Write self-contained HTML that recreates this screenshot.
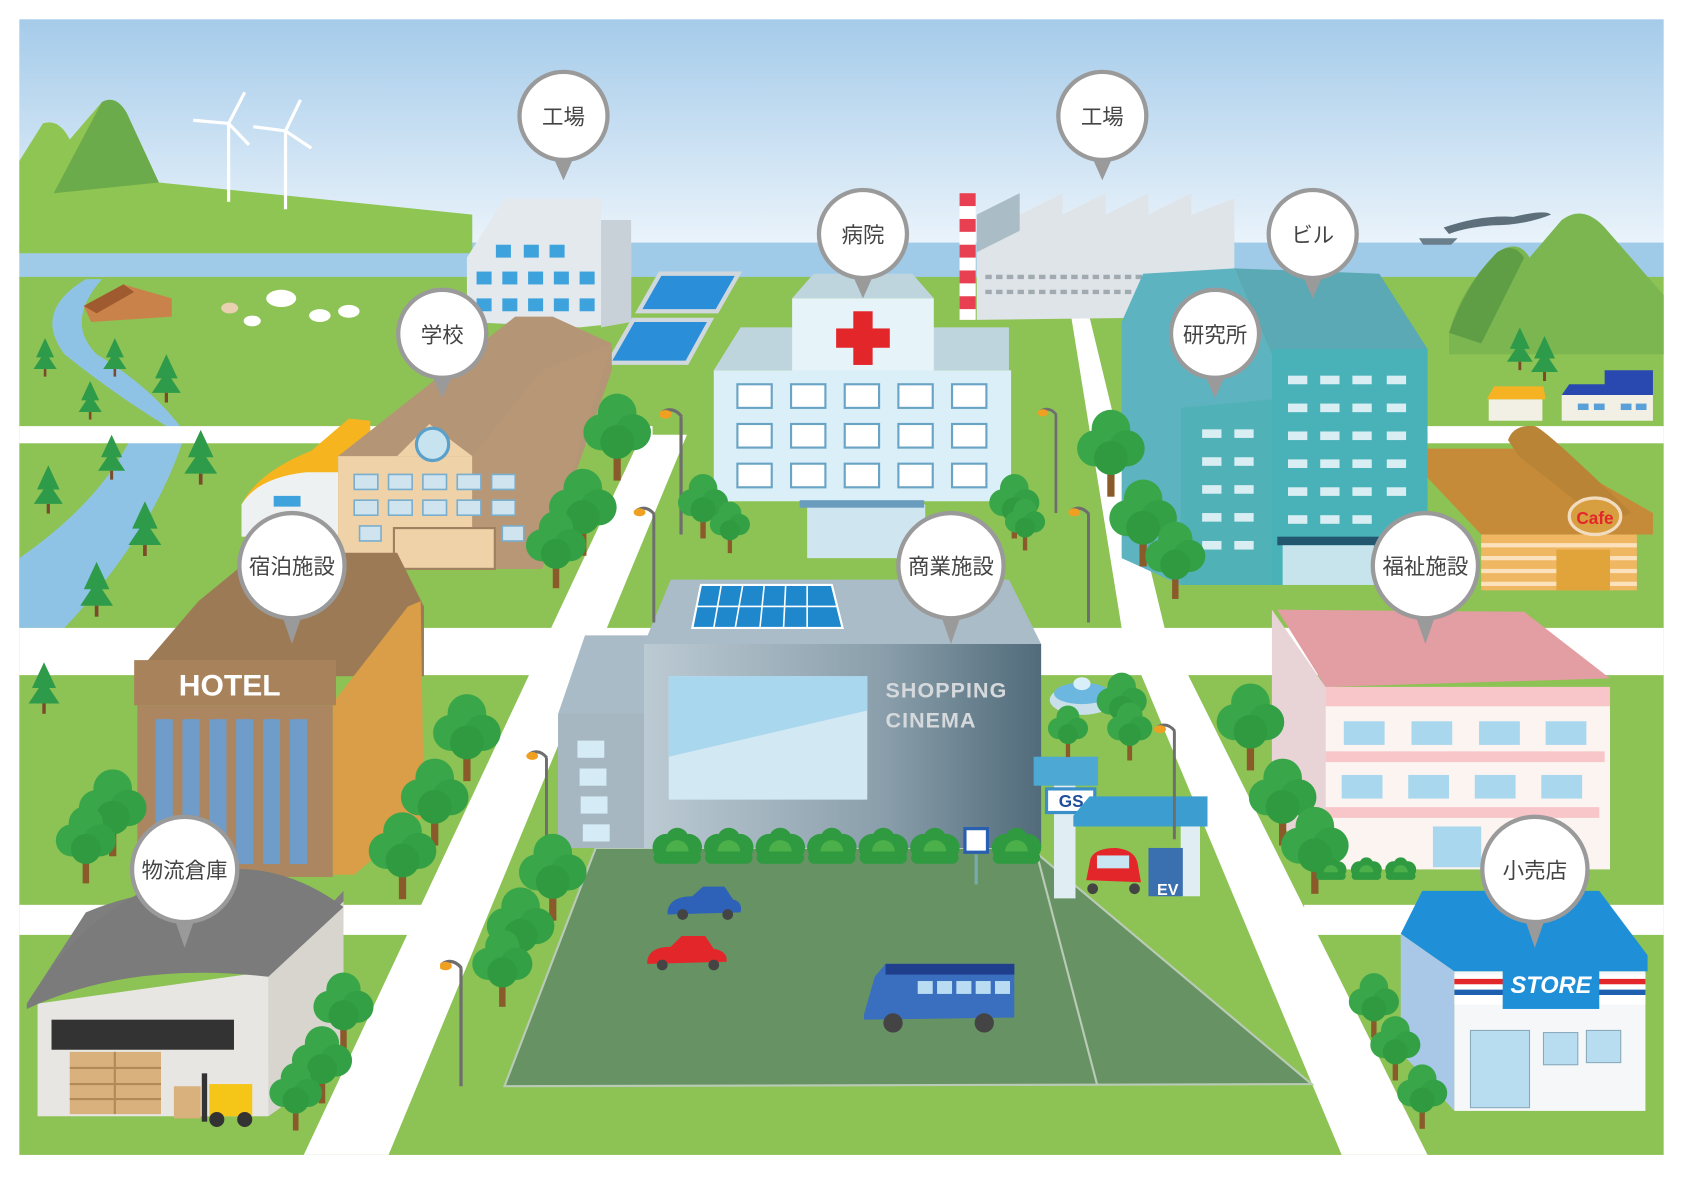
<!DOCTYPE html>
<html><head><meta charset="utf-8"><style>
html,body{margin:0;padding:0;background:#fff;}
svg{display:block;}
.lbl{font-family:"Liberation Sans","Noto Sans CJK JP",sans-serif;font-size:20px;fill:#444;text-anchor:middle;}
</style></head><body>
<svg width="1683" height="1200" viewBox="0 0 1568 1118" preserveAspectRatio="none" xmlns="http://www.w3.org/2000/svg">
<defs>
<linearGradient id="sky" x1="0" y1="0" x2="0" y2="1"><stop offset="0" stop-color="#a5cbea"/><stop offset="1" stop-color="#f4f9fd"/></linearGradient>
<linearGradient id="shop" x1="0" y1="0" x2="1" y2="0"><stop offset="0" stop-color="#bccad3"/><stop offset="0.6" stop-color="#8a9fab"/><stop offset="1" stop-color="#516b7a"/></linearGradient>
<symbol id="tree" viewBox="0 0 60 80"><rect x="27" y="48" width="6" height="30" fill="#8b5a2b"/><circle cx="30" cy="22" r="16" fill="#3aa64a"/><circle cx="17" cy="38" r="15" fill="#3aa64a"/><circle cx="43" cy="38" r="15" fill="#34a045"/><circle cx="30" cy="46" r="14" fill="#2f9a40"/></symbol>
<symbol id="pine" viewBox="0 0 40 60"><polygon points="20,0 34,30 26,30 38,48 2,48 14,30 6,30" fill="#2e9b4a"/><rect x="18" y="48" width="4" height="12" fill="#7a4a2a"/></symbol>
<symbol id="lamp" viewBox="0 0 30 120"><rect x="18" y="10" width="3" height="110" fill="#6e6e6e"/><path d="M2,6 Q12,0 20,10" stroke="#6e6e6e" stroke-width="3" fill="none"/><ellipse cx="5" cy="8" rx="6" ry="4" fill="#f0a020"/></symbol>
<symbol id="bush" viewBox="0 0 50 36"><circle cx="14" cy="20" r="13" fill="#2f9a40"/><circle cx="36" cy="20" r="13" fill="#2f9a40"/><circle cx="25" cy="12" r="11" fill="#2f9a40"/><circle cx="25" cy="24" r="11" fill="#4cb04a"/><rect x="2" y="24" width="46" height="12" rx="6" fill="#2f9a40"/></symbol>
</defs>
<rect width="1568" height="1118" fill="#fff"/>
<rect x="18" y="18" width="1532" height="240" fill="url(#sky)"/>
<rect x="18" y="226" width="1532" height="34" fill="#9fcbe8"/>
<path d="M18,150 L40,115 Q55,110 65,130 L95,95 Q110,90 120,110 L148,170 L440,200 L440,236 L18,236Z" fill="#8ec553"/>
<path d="M50,180 L95,95 Q108,88 118,105 L148,170 Z" fill="#6cab4b"/>
<rect x="18" y="258" width="1532" height="818" fill="#8dc254"/>
<!-- right hills -->
<path d="M1350,310 Q1360,270 1395,235 Q1415,222 1425,240 L1455,205 Q1475,190 1495,212 L1550,275 L1550,330 L1350,330Z" fill="#7bb651"/>
<path d="M1350,310 Q1365,265 1395,235 Q1410,225 1420,240 L1380,320Z" fill="#5f9e45"/>
<path d="M80,260 Q30,290 60,330 Q110,370 160,400 L120,412 Q90,470 18,520 L18,585 L60,585 Q140,500 170,412 L170,400 Q140,360 90,330 Q60,300 95,260Z" fill="#8fc3e6"/>
<g fill="#fff">
<rect x="18" y="397" width="590" height="16"/>
<rect x="1320" y="397" width="230" height="16"/>
<rect x="18" y="585" width="1532" height="44"/>
<rect x="18" y="843" width="378" height="28"/>
<rect x="1215" y="843" width="335" height="28"/>
<polygon points="598,405 640,405 362,1076 283,1076"/>
<polygon points="998,295 1015,295 1085,585 1330,1076 1250,1076 1045,585"/>
</g>
<polygon points="555,790 960,790 1222,1010 470,1012" fill="#679264" stroke="#b9cbb6" stroke-width="2"/>
<line x1="965" y1="792" x2="1022" y2="1010" stroke="#b9cbb6" stroke-width="2"/>
<g stroke="#fff" stroke-width="3"><line x1="213" y1="115" x2="213" y2="188"/><line x1="266" y1="122" x2="266" y2="195"/><line x1="213" y1="115" x2="228" y2="86"/><line x1="213" y1="115" x2="180" y2="112"/><line x1="213" y1="115" x2="232" y2="135"/><line x1="266" y1="122" x2="280" y2="93"/><line x1="266" y1="122" x2="236" y2="118"/><line x1="266" y1="122" x2="290" y2="138"/></g>
<polygon points="78,285 115,265 160,278 160,295 85,300" fill="#c9824a"/><polygon points="78,285 115,265 125,272 90,292" fill="#a05a30"/>
<g fill="#fff"><ellipse cx="262" cy="278" rx="14" ry="8"/><ellipse cx="298" cy="294" rx="10" ry="6"/><ellipse cx="325" cy="290" rx="10" ry="6"/><ellipse cx="214" cy="287" rx="8" ry="5" fill="#e8d0b0"/><ellipse cx="235" cy="299" rx="8" ry="5"/></g>
<path d="M1322,222 L1358,222 L1352,228 L1326,228Z" fill="#6a7e8c"/><path d="M1345,212 Q1380,200 1410,202 Q1440,195 1445,200 Q1420,210 1390,210 Q1365,212 1350,218Z" fill="#5d6f7b"/>
<polygon points="435,240 470,185 560,185 560,205 588,205 588,300 540,305 435,300" fill="#e4e9ee"/>
<polygon points="560,205 588,205 588,300 560,305" fill="#c9d1d8"/>
<g fill="#3ea2dc"><rect x="462" y="228" width="14" height="12"/><rect x="488" y="228" width="14" height="12"/><rect x="512" y="228" width="14" height="12"/><rect x="444" y="253" width="14" height="12"/><rect x="468" y="253" width="14" height="12"/><rect x="492" y="253" width="14" height="12"/><rect x="516" y="253" width="14" height="12"/><rect x="540" y="253" width="14" height="12"/><rect x="444" y="278" width="14" height="12"/><rect x="468" y="278" width="14" height="12"/><rect x="492" y="278" width="14" height="12"/><rect x="516" y="278" width="14" height="12"/><rect x="540" y="278" width="14" height="12"/></g>
<polygon points="595,290 615,255 688,255 668,290" fill="#2a8fd8" stroke="#d0d8de" stroke-width="4"/>
<polygon points="567,338 590,298 662,298 640,338" fill="#2a8fd8" stroke="#d0d8de" stroke-width="4"/>
<polygon points="910,200 950,180 950,200 990,180 990,200 1030,180 1030,200 1070,180 1070,200 1110,180 1110,200 1150,185 1150,295 910,298" fill="#dfe4e8"/>
<polygon points="910,200 950,180 950,215 910,235" fill="#aabcc6"/>
<g stroke="#a0aab0" stroke-width="4" stroke-dasharray="6,4"><line x1="918" y1="258" x2="1110" y2="258"/><line x1="918" y1="272" x2="1110" y2="272"/></g>
<rect x="894" y="180" width="15" height="118" fill="#fff"/><g fill="#e84050"><rect x="894" y="180" width="15" height="12"/><rect x="894" y="204" width="15" height="12"/><rect x="894" y="228" width="15" height="12"/><rect x="894" y="252" width="15" height="12"/><rect x="894" y="276" width="15" height="12"/></g>
<polygon points="738,278 758,255 850,255 870,278" fill="#bfd5de"/>
<polygon points="665,345 690,305 940,305 940,345" fill="#bfd5de"/>
<rect x="738" y="278" width="132" height="70" fill="#e6f4fa"/>
<rect x="665" y="345" width="277" height="122" fill="#dbeff8"/>
<rect x="752" y="470" width="110" height="50" fill="#cfe6f1"/>
<rect x="745" y="466" width="116" height="7" fill="#6a9dbd"/>
<rect x="795" y="290" width="18" height="50" fill="#e3262a"/><rect x="779" y="306" width="50" height="18" fill="#e3262a"/>
<g fill="#fff" stroke="#6aa4c4" stroke-width="2"><rect x="687" y="358" width="32" height="22"/><rect x="737" y="358" width="32" height="22"/><rect x="787" y="358" width="32" height="22"/><rect x="837" y="358" width="32" height="22"/><rect x="887" y="358" width="32" height="22"/><rect x="687" y="395" width="32" height="22"/><rect x="737" y="395" width="32" height="22"/><rect x="787" y="395" width="32" height="22"/><rect x="837" y="395" width="32" height="22"/><rect x="887" y="395" width="32" height="22"/><rect x="687" y="432" width="32" height="22"/><rect x="737" y="432" width="32" height="22"/><rect x="787" y="432" width="32" height="22"/><rect x="837" y="432" width="32" height="22"/><rect x="887" y="432" width="32" height="22"/></g>
<polygon points="1045,300 1065,255 1150,250 1185,330 1185,540 1100,545 1045,520" fill="#5eb3c0"/>
<polygon points="1150,250 1285,255 1330,325 1185,330" fill="#5aa9b4"/>
<rect x="1185" y="325" width="145" height="220" fill="#48b2b8"/>
<polygon points="1100,380 1185,372 1185,545 1100,545" fill="#50b1b6"/>
<g fill="#d9eef3"><rect x="1200" y="350" width="18" height="8"/><rect x="1230" y="350" width="18" height="8"/><rect x="1260" y="350" width="18" height="8"/><rect x="1292" y="350" width="18" height="8"/><rect x="1200" y="376" width="18" height="8"/><rect x="1230" y="376" width="18" height="8"/><rect x="1260" y="376" width="18" height="8"/><rect x="1292" y="376" width="18" height="8"/><rect x="1200" y="402" width="18" height="8"/><rect x="1230" y="402" width="18" height="8"/><rect x="1260" y="402" width="18" height="8"/><rect x="1292" y="402" width="18" height="8"/><rect x="1200" y="428" width="18" height="8"/><rect x="1230" y="428" width="18" height="8"/><rect x="1260" y="428" width="18" height="8"/><rect x="1292" y="428" width="18" height="8"/><rect x="1200" y="454" width="18" height="8"/><rect x="1230" y="454" width="18" height="8"/><rect x="1260" y="454" width="18" height="8"/><rect x="1292" y="454" width="18" height="8"/><rect x="1200" y="480" width="18" height="8"/><rect x="1230" y="480" width="18" height="8"/><rect x="1260" y="480" width="18" height="8"/><rect x="1120" y="400" width="18" height="8"/><rect x="1150" y="400" width="18" height="8"/><rect x="1120" y="426" width="18" height="8"/><rect x="1150" y="426" width="18" height="8"/><rect x="1120" y="452" width="18" height="8"/><rect x="1150" y="452" width="18" height="8"/><rect x="1120" y="478" width="18" height="8"/><rect x="1150" y="478" width="18" height="8"/><rect x="1120" y="504" width="18" height="8"/><rect x="1150" y="504" width="18" height="8"/></g>
<rect x="1190" y="500" width="95" height="8" fill="#23576f"/><rect x="1195" y="508" width="85" height="37" fill="#c7e3ec"/>
<rect x="1387" y="372" width="50" height="20" fill="#f2efe4"/><polygon points="1385,372 1392,360 1438,360 1440,372" fill="#f5b324"/>
<rect x="1455" y="368" width="85" height="24" fill="#f2efe4"/><polygon points="1455,368 1462,358 1495,358 1495,345 1540,345 1540,368" fill="#2a49b0"/>
<g fill="#5aa0d8"><rect x="1470" y="376" width="10" height="6"/><rect x="1485" y="376" width="10" height="6"/><rect x="1510" y="376" width="10" height="6"/><rect x="1524" y="376" width="10" height="6"/></g>
<polygon points="1330,418 1435,418 1540,478 1540,498 1380,498 1330,445" fill="#c68b38"/>
<path d="M1405,410 Q1410,395 1430,397 Q1440,400 1520,478 L1495,488 L1415,425Z" fill="#b98436"/>
<rect x="1380" y="498" width="145" height="52" fill="#f0b763"/>
<g stroke="#fbe2bd" stroke-width="4"><line x1="1380" y1="508" x2="1525" y2="508"/><line x1="1380" y1="520" x2="1525" y2="520"/><line x1="1380" y1="532" x2="1525" y2="532"/><line x1="1380" y1="544" x2="1525" y2="544"/></g>
<rect x="1450" y="512" width="50" height="38" fill="#e1a43a"/>
<ellipse cx="1486" cy="481" rx="24" ry="17" fill="#d89f40" stroke="#f2dcc0" stroke-width="3"/>
<text x="1486" y="488" font-family="Liberation Sans,sans-serif" font-weight="bold" font-size="16" fill="#e3262a" text-anchor="middle">Cafe</text>
<path d="M225,470 Q240,440 290,420 L325,390 L345,392 L345,500 L225,500Z" fill="#f6b41e"/>
<path d="M225,470 Q240,445 285,440 L320,440 L320,500 L225,500Z" fill="#eef1f2"/>
<rect x="255" y="462" width="25" height="10" fill="#3ea2dc"/>
<polygon points="315,425 480,295 515,295 570,320 570,345 505,530 370,530 315,530" fill="#b49676"/>
<polygon points="315,425 440,425 440,530 315,530" fill="#f0d2a8"/>
<polygon points="370,425 400,395 440,425" fill="#f0d2a8"/>
<polygon points="440,425 505,345 570,320 505,530 440,530" fill="#b79775"/>
<circle cx="403" cy="414" r="15" fill="#c7e3ef" stroke="#5aa0c8" stroke-width="3"/>
<g fill="#cfe4ef" stroke="#7aaecd" stroke-width="1.5"><rect x="330" y="442" width="22" height="14"/><rect x="362" y="442" width="22" height="14"/><rect x="394" y="442" width="22" height="14"/><rect x="426" y="442" width="22" height="14"/><rect x="458" y="442" width="22" height="14"/><rect x="330" y="466" width="22" height="14"/><rect x="362" y="466" width="22" height="14"/><rect x="394" y="466" width="22" height="14"/><rect x="426" y="466" width="22" height="14"/><rect x="458" y="466" width="22" height="14"/><rect x="335" y="490" width="20" height="14"/><rect x="468" y="490" width="20" height="14"/></g>
<g stroke="#a08060" stroke-width="2"><rect x="367" y="492" width="94" height="38" fill="#f0d2a8"/></g>
<polygon points="125,630 185,560 240,515 370,515 395,565 395,630" fill="#9c7a55"/>
<polygon points="310,655 380,565 392,560 395,760 330,815 310,815" fill="#d99e47"/>
<rect x="125" y="615" width="188" height="42" fill="#a8825a"/>
<rect x="128" y="657" width="182" height="160" fill="#ab8660"/>
<g fill="#6f9cc8"><rect x="145" y="670" width="16" height="135"/><rect x="170" y="670" width="16" height="135"/><rect x="195" y="670" width="16" height="135"/><rect x="220" y="670" width="16" height="135"/><rect x="245" y="670" width="16" height="135"/><rect x="270" y="670" width="16" height="135"/></g>
<text x="214" y="648" font-family="Liberation Sans,sans-serif" font-weight="bold" font-size="28" fill="#fff" text-anchor="middle">HOTEL</text>
<polygon points="520,665 545,592 610,592 610,790 520,790" fill="#a9bbc7"/>
<rect x="520" y="665" width="90" height="125" fill="#a7b7c2"/>
<g fill="#d5ecf6"><rect x="538" y="690" width="25" height="16"/><rect x="540" y="716" width="25" height="16"/><rect x="541" y="742" width="25" height="16"/><rect x="543" y="768" width="25" height="16"/></g>
<polygon points="600,600 625,540 940,540 970,600" fill="#aabcc8"/>
<rect x="600" y="600" width="370" height="190" fill="url(#shop)"/>
<rect x="623" y="630" width="185" height="115" fill="#d2e8f3"/>
<polygon points="623,630 808,630 808,662 623,705" fill="#a9d7ee"/>
<polygon points="653,545 775,545 785,585 645,585" fill="#1f88cc" stroke="#fff" stroke-width="2"/>
<g stroke="#fff" stroke-width="1.5"><line x1="649" y1="565" x2="780" y2="565"/><line x1="672" y1="545" x2="665" y2="585"/><line x1="692" y1="545" x2="685" y2="585"/><line x1="712" y1="545" x2="708" y2="585"/><line x1="732" y1="545" x2="730" y2="585"/><line x1="752" y1="545" x2="752" y2="585"/></g>
<text x="825" y="650" font-family="Liberation Sans,sans-serif" font-weight="bold" font-size="20" fill="#d6d9dc" letter-spacing="1">SHOPPING</text>
<text x="825" y="678" font-family="Liberation Sans,sans-serif" font-weight="bold" font-size="20" fill="#d6d9dc" letter-spacing="1">CINEMA</text>
<g><use href="#bush" x="607" y="770" width="48" height="35"/><use href="#bush" x="655" y="770" width="48" height="35"/><use href="#bush" x="703" y="770" width="48" height="35"/><use href="#bush" x="751" y="770" width="48" height="35"/><use href="#bush" x="799" y="770" width="48" height="35"/><use href="#bush" x="847" y="770" width="48" height="35"/><use href="#bush" x="923" y="770" width="48" height="35"/></g>
<rect x="908" y="796" width="3" height="28" fill="#7aa"/><rect x="899" y="772" width="21" height="22" fill="#fff" stroke="#2a5fb0" stroke-width="3"/>
<ellipse cx="1008" cy="652" rx="30" ry="14" fill="#c9dfe9"/><ellipse cx="1008" cy="646" rx="26" ry="10" fill="#6bb7e0"/><ellipse cx="1008" cy="637" rx="8" ry="6" fill="#d8eef8"/>
<rect x="963" y="705" width="60" height="27" fill="#4ea8d4"/>
<rect x="982" y="732" width="20" height="105" fill="#e0eef4"/>
<rect x="975" y="735" width="45" height="22" fill="#fff" stroke="#3a8fc8" stroke-width="3"/>
<text x="998" y="752" font-family="Liberation Sans,sans-serif" font-weight="bold" font-size="16" fill="#1f4e9c" text-anchor="middle">GS</text>
<polygon points="1000,760 1015,742 1125,742 1125,770 1000,770" fill="#3c9ed0"/>
<rect x="1100" y="770" width="18" height="65" fill="#e0eef4"/>
<rect x="1070" y="790" width="32" height="45" fill="#3a6fb0"/>
<text x="1088" y="834" font-family="Liberation Sans,sans-serif" font-weight="bold" font-size="15" fill="#fff" text-anchor="middle">EV</text>
<path d="M1012,820 L1016,800 Q1020,790 1040,790 Q1058,792 1060,805 L1063,822 Z" fill="#e3262a"/><rect x="1022" y="797" width="30" height="12" fill="#c9e4f2"/><circle cx="1018" cy="828" r="5" fill="#444"/><circle cx="1057" cy="828" r="5" fill="#444"/>
<polygon points="1190,568 1420,570 1500,632 1235,640" fill="#e39ea3"/>
<polygon points="1185,568 1235,640 1235,810 1185,760" fill="#e8d4d6"/>
<rect x="1235" y="640" width="265" height="170" fill="#fbf4f1"/>
<rect x="1235" y="640" width="265" height="18" fill="#f8c6c9"/>
<rect x="1235" y="700" width="260" height="10" fill="#f8c6c9"/>
<rect x="1235" y="752" width="255" height="10" fill="#f8c6c9"/>
<g fill="#a9d7ee"><rect x="1252" y="672" width="38" height="22"/><rect x="1315" y="672" width="38" height="22"/><rect x="1378" y="672" width="38" height="22"/><rect x="1440" y="672" width="38" height="22"/><rect x="1250" y="722" width="38" height="22"/><rect x="1312" y="722" width="38" height="22"/><rect x="1374" y="722" width="38" height="22"/><rect x="1436" y="722" width="38" height="22"/><rect x="1335" y="770" width="45" height="38"/></g>
<path d="M25,935 Q130,890 250,905 L320,830 L320,870 Q200,800 80,850 Z" fill="#7e7e7e"/>
<polygon points="35,935 250,905 320,840 320,990 250,1040 35,1040" fill="#e8e6e2"/>
<polygon points="250,905 320,840 320,990 250,1040" fill="#d8d5cf"/>
<path d="M25,940 Q120,895 250,910 L320,845 Q260,800 190,812 Q90,830 25,935Z" fill="#7b7b7b"/>
<rect x="48" y="950" width="170" height="28" fill="#333"/>
<rect x="65" y="980" width="85" height="58" fill="#d9b17d"/>
<g stroke="#b28a58" stroke-width="2"><line x1="65" y1="995" x2="150" y2="995"/><line x1="65" y1="1010" x2="150" y2="1010"/><line x1="65" y1="1024" x2="150" y2="1024"/><line x1="107" y1="980" x2="107" y2="1038"/></g>
<rect x="195" y="1010" width="40" height="30" fill="#f5c518"/><rect x="188" y="1000" width="5" height="45" fill="#333"/><circle cx="202" cy="1043" r="7" fill="#333"/><circle cx="228" cy="1043" r="7" fill="#333"/>
<rect x="162" y="1012" width="25" height="30" fill="#d9b17d"/>
<polygon points="1305,870 1325,830 1490,830 1535,890 1535,905 1355,905" fill="#1f90d8"/>
<polygon points="1305,870 1355,905 1355,1035 1305,980" fill="#a9c8e8"/>
<rect x="1355" y="905" width="178" height="130" fill="#f5f7f9"/>
<rect x="1355" y="908" width="178" height="28" fill="#fff"/>
<g fill="#e3262a"><rect x="1355" y="912" width="48" height="5"/><rect x="1485" y="912" width="48" height="5"/></g>
<g fill="#1f5fb0"><rect x="1355" y="922" width="48" height="5"/><rect x="1485" y="922" width="48" height="5"/></g>
<rect x="1400" y="890" width="90" height="50" fill="#1f90d8"/>
<text x="1445" y="925" font-family="Liberation Sans,sans-serif" font-weight="bold" font-style="italic" font-size="22" fill="#fff" text-anchor="middle">STORE</text>
<g fill="#b8dcf0" stroke="#8ab" stroke-width="1"><rect x="1370" y="960" width="55" height="72"/><rect x="1438" y="962" width="32" height="30"/><rect x="1478" y="960" width="32" height="30"/></g>
<g><path d="M622,848 Q625,835 645,835 L655,826 L675,826 L683,838 Q692,840 690,850 L622,852Z" fill="#2e62b8"/><circle cx="636" cy="852" r="5" fill="#444"/><circle cx="678" cy="852" r="5" fill="#444"/></g>
<g><path d="M603,895 Q605,882 625,882 L635,872 L657,872 L665,884 Q678,886 677,896 L603,898Z" fill="#e3262a"/><circle cx="617" cy="899" r="5" fill="#444"/><circle cx="665" cy="899" r="5" fill="#444"/></g>
<g><path d="M805,945 L815,910 L825,898 L945,898 L945,948 L805,950Z" fill="#3a6fc0"/><rect x="825" y="898" width="120" height="10" fill="#1f3f8c"/><g fill="#b9dcf2"><rect x="855" y="914" width="14" height="12"/><rect x="873" y="914" width="14" height="12"/><rect x="891" y="914" width="14" height="12"/><rect x="909" y="914" width="14" height="12"/><rect x="927" y="914" width="14" height="12"/></g><circle cx="832" cy="953" r="9" fill="#444"/><circle cx="917" cy="953" r="9" fill="#444"/></g>
<use href="#lamp" x="615" y="378" width="30" height="120"/>
<use href="#lamp" x="965" y="378" width="30" height="100"/>
<use href="#lamp" x="590" y="470" width="30" height="110"/>
<use href="#lamp" x="995" y="470" width="30" height="110"/>
<use href="#lamp" x="490" y="697" width="30" height="110"/>
<use href="#lamp" x="1075" y="672" width="30" height="110"/>
<use href="#lamp" x="410" y="887" width="30" height="130"/>
<g>
<use href="#tree" x="540" y="360" width="70" height="90"/><use href="#tree" x="508" y="430" width="70" height="90"/><use href="#tree" x="488" y="470" width="60" height="80"/>
<use href="#tree" x="630" y="430" width="50" height="80"/><use href="#tree" x="660" y="460" width="40" height="60"/>
<use href="#tree" x="920" y="430" width="50" height="80"/><use href="#tree" x="935" y="455" width="40" height="65"/>
<use href="#tree" x="1000" y="375" width="70" height="90"/><use href="#tree" x="1030" y="440" width="70" height="90"/><use href="#tree" x="1065" y="480" width="60" height="80"/>
<use href="#tree" x="400" y="640" width="70" height="90"/><use href="#tree" x="370" y="700" width="70" height="90"/><use href="#tree" x="340" y="750" width="70" height="90"/>
<use href="#tree" x="70" y="710" width="70" height="90"/><use href="#tree" x="50" y="745" width="60" height="80"/>
<use href="#tree" x="480" y="770" width="70" height="90"/><use href="#tree" x="450" y="820" width="70" height="90"/><use href="#tree" x="438" y="860" width="60" height="80"/>
<use href="#tree" x="1130" y="630" width="70" height="90"/><use href="#tree" x="1160" y="700" width="70" height="90"/><use href="#tree" x="1190" y="745" width="70" height="90"/>
<use href="#tree" x="975" y="650" width="40" height="60"/><use href="#tree" x="1020" y="615" width="50" height="80"/><use href="#tree" x="1030" y="650" width="45" height="60"/>
<use href="#tree" x="290" y="900" width="60" height="80"/><use href="#tree" x="270" y="950" width="60" height="80"/><use href="#tree" x="248" y="985" width="55" height="70"/>
<use href="#tree" x="1255" y="900" width="50" height="70"/><use href="#tree" x="1275" y="940" width="50" height="70"/><use href="#tree" x="1300" y="985" width="50" height="70"/>
<use href="#bush" x="1225" y="798" width="30" height="22"/><use href="#bush" x="1258" y="798" width="30" height="22"/><use href="#bush" x="1290" y="798" width="30" height="22"/>
<use href="#pine" x="30" y="315" width="24" height="36"/><use href="#pine" x="95" y="315" width="24" height="36"/><use href="#pine" x="72" y="355" width="24" height="36"/><use href="#pine" x="140" y="330" width="30" height="45"/>
<use href="#pine" x="90" y="405" width="28" height="42"/><use href="#pine" x="170" y="400" width="34" height="52"/><use href="#pine" x="30" y="430" width="30" height="52"/><use href="#pine" x="118" y="465" width="34" height="55"/><use href="#pine" x="73" y="520" width="34" height="58"/><use href="#pine" x="25" y="615" width="32" height="52"/>
<use href="#pine" x="1402" y="305" width="28" height="40" /><use href="#pine" x="1425" y="312" width="28" height="44"/>
</g>
<g fill="#fff" stroke="#9a9a9a" stroke-width="4">
<circle cx="525" cy="108" r="41"/><circle cx="1027" cy="108" r="41"/><circle cx="804" cy="218" r="41"/><circle cx="1223" cy="218" r="41"/><circle cx="412" cy="311" r="41"/><circle cx="1132" cy="311" r="41"/><circle cx="272" cy="527" r="49"/><circle cx="886" cy="527" r="49"/><circle cx="1328" cy="527" r="49"/><circle cx="172" cy="810" r="49"/><circle cx="1430" cy="810" r="49"/>
</g>
<g fill="#9a9a9a">
<polygon points="517,150 533,150 525,168"/><polygon points="1019,150 1035,150 1027,168"/><polygon points="796,260 812,260 804,278"/><polygon points="1215,260 1231,260 1223,278"/><polygon points="404,353 420,353 412,371"/><polygon points="1124,353 1140,353 1132,371"/><polygon points="264,577 280,577 272,600"/><polygon points="878,577 894,577 886,600"/><polygon points="1320,577 1336,577 1328,600"/><polygon points="164,860 180,860 172,883"/><polygon points="1422,860 1438,860 1430,883"/>
</g>
<g class="lbl">
<text x="525" y="116">工場</text><text x="1027" y="116">工場</text><text x="804" y="226">病院</text><text x="1223" y="226">ビル</text><text x="412" y="319">学校</text><text x="1132" y="319">研究所</text><text x="272" y="535">宿泊施設</text><text x="886" y="535">商業施設</text><text x="1328" y="535">福祉施設</text><text x="172" y="818">物流倉庫</text><text x="1430" y="818">小売店</text>
</g>
</svg>
</body></html>
